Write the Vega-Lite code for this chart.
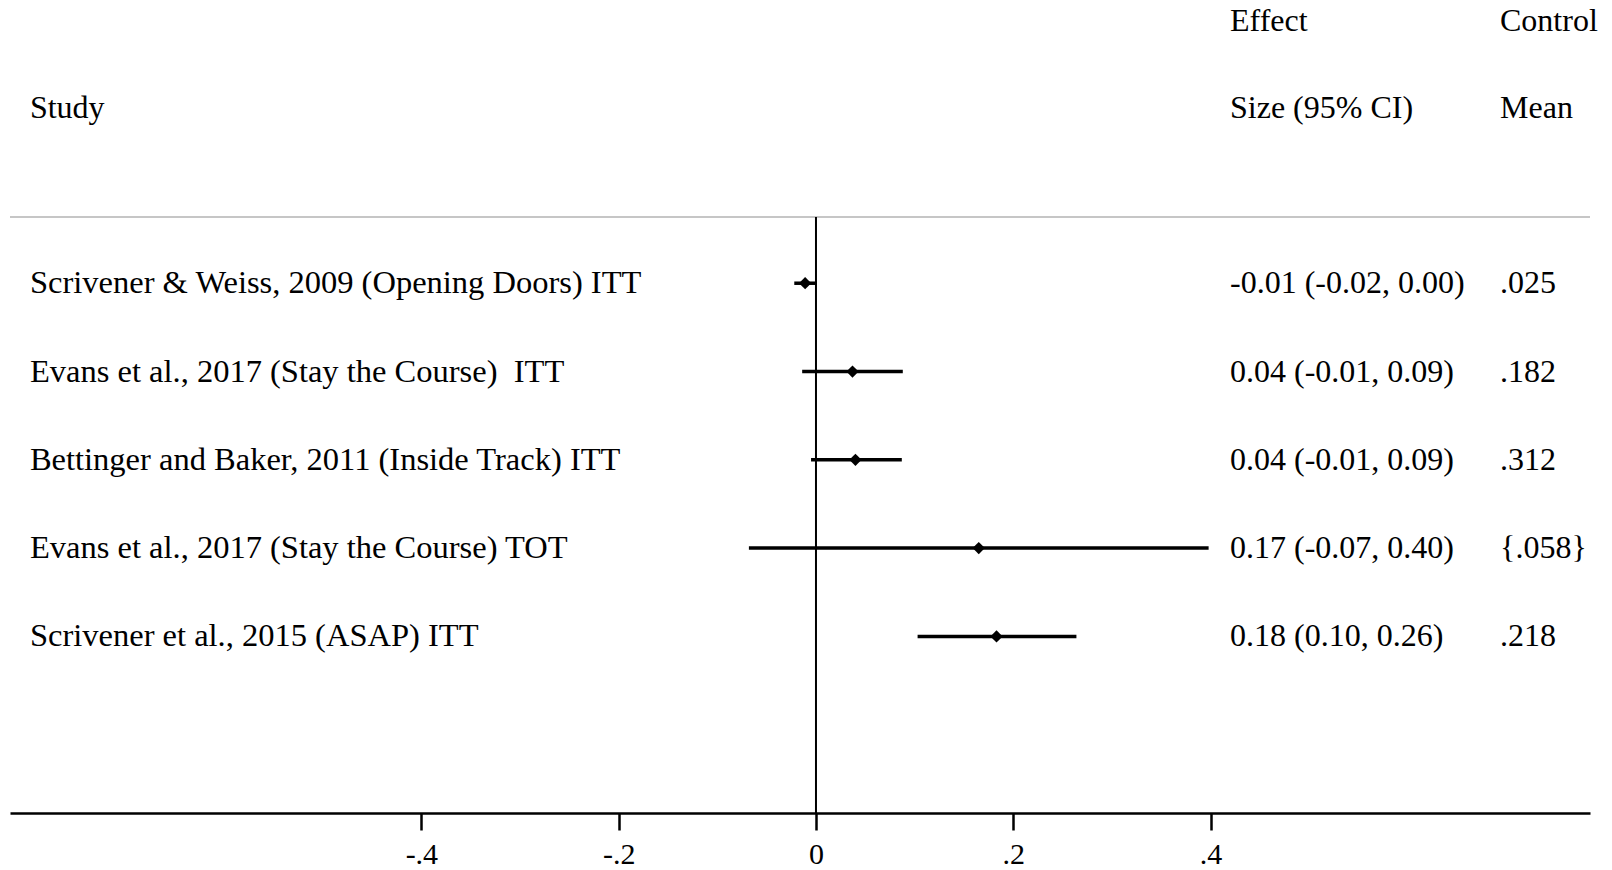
{
  "$schema": "https://vega.github.io/schema/vega-lite/v6.json",
  "width": 1580,
  "height": 596,
  "autosize": {"type": "none"},
  "padding": {"left": 10, "top": 217, "right": 22, "bottom": 57},
  "background": "white",
  "config": {"view": {"stroke": null}, "font": "Liberation Serif"},
  "data": {
    "values": [
      {"study": "Scrivener & Weiss, 2009 (Opening Doors) ITT", "row": 1, "est": -0.011, "lo": -0.022, "hi": 0.001, "es": "-0.01 (-0.02, 0.00)", "cm": ".025"},
      {"study": "Evans et al., 2017 (Stay the Course)\u00a0 ITT", "row": 2, "est": 0.037, "lo": -0.014, "hi": 0.088, "es": "0.04 (-0.01, 0.09)", "cm": ".182"},
      {"study": "Bettinger and Baker, 2011 (Inside Track) ITT", "row": 3, "est": 0.04, "lo": -0.005, "hi": 0.087, "es": "0.04 (-0.01, 0.09)", "cm": ".312"},
      {"study": "Evans et al., 2017 (Stay the Course) TOT", "row": 4, "est": 0.165, "lo": -0.068, "hi": 0.398, "es": "0.17 (-0.07, 0.40)", "cm": "{.058}"},
      {"study": "Scrivener et al., 2015 (ASAP) ITT", "row": 5, "est": 0.183, "lo": 0.103, "hi": 0.264, "es": "0.18 (0.10, 0.26)", "cm": ".218"}
    ]
  },
  "layer": [
    {
      "data": {"values": [{}]},
      "mark": {"type": "rule", "color": "#c6c6c6", "strokeWidth": 2},
      "encoding": {
        "y": {"datum": 0.25, "type": "quantitative", "scale": {"domain": [0.25, 7], "reverse": true, "nice": false, "zero": false}, "axis": null}
      }
    },
    {
      "data": {"values": [{}]},
      "mark": {"type": "rule", "color": "black", "strokeWidth": 2},
      "encoding": {
        "x": {"datum": 0, "type": "quantitative", "scale": {"domain": [-0.817, 0.7846], "nice": false, "zero": false}}
      }
    },
    {
      "mark": {"type": "rule", "color": "black", "strokeWidth": 3.5},
      "encoding": {
        "x": {"field": "lo", "type": "quantitative", "scale": {"domain": [-0.817, 0.7846], "nice": false, "zero": false}},
        "x2": {"field": "hi"},
        "y": {"field": "row", "type": "quantitative", "scale": {"domain": [0.25, 7], "reverse": true, "nice": false, "zero": false}, "axis": null}
      }
    },
    {
      "mark": {"type": "point", "shape": "diamond", "filled": true, "color": "black", "opacity": 1, "size": 150},
      "encoding": {
        "x": {
          "field": "est", "type": "quantitative",
          "scale": {"domain": [-0.817, 0.7846], "nice": false, "zero": false},
          "axis": {
            "values": [-0.4, -0.2, 0, 0.2, 0.4],
            "labelExpr": "datum.value == 0 ? '0' : (datum.value < 0 ? '-' : '') + '.' + abs(round(datum.value * 10))",
            "title": null, "grid": false,
            "domainColor": "black", "domainWidth": 2.5,
            "tickColor": "black", "tickWidth": 2.5, "tickSize": 17,
            "labelFont": "Liberation Serif", "labelFontSize": 30, "labelColor": "black",
            "labelPadding": 9, "labelFlush": false, "labelOverlap": false
          }
        },
        "y": {"field": "row", "type": "quantitative", "scale": {"domain": [0.25, 7], "reverse": true, "nice": false, "zero": false}, "axis": null}
      }
    },
    {
      "mark": {"type": "text", "align": "left", "baseline": "middle", "fontSize": 32.5, "font": "Liberation Serif", "color": "black"},
      "encoding": {
        "x": {"datum": -0.7968, "type": "quantitative"},
        "y": {"field": "row", "type": "quantitative"},
        "text": {"field": "study"}
      }
    },
    {
      "mark": {"type": "text", "align": "left", "baseline": "middle", "fontSize": 32, "font": "Liberation Serif", "color": "black"},
      "encoding": {
        "x": {"datum": 0.4197, "type": "quantitative"},
        "y": {"field": "row", "type": "quantitative"},
        "text": {"field": "es"}
      }
    },
    {
      "mark": {"type": "text", "align": "left", "baseline": "middle", "fontSize": 32, "font": "Liberation Serif", "color": "black"},
      "encoding": {
        "x": {"datum": 0.6934, "type": "quantitative"},
        "y": {"field": "row", "type": "quantitative"},
        "text": {"field": "cm"}
      }
    },
    {
      "data": {"values": [{}]},
      "mark": {"type": "text", "align": "left", "baseline": "middle", "fontSize": 32, "font": "Liberation Serif", "color": "black", "text": "Study"},
      "encoding": {
        "x": {"datum": -0.7968, "type": "quantitative"},
        "y": {"datum": -0.98, "type": "quantitative"}
      }
    },
    {
      "data": {"values": [{}]},
      "mark": {"type": "text", "align": "left", "baseline": "middle", "fontSize": 32, "font": "Liberation Serif", "color": "black", "text": "Effect"},
      "encoding": {
        "x": {"datum": 0.4197, "type": "quantitative"},
        "y": {"datum": -1.97, "type": "quantitative"}
      }
    },
    {
      "data": {"values": [{}]},
      "mark": {"type": "text", "align": "left", "baseline": "middle", "fontSize": 32, "font": "Liberation Serif", "color": "black", "text": "Size (95% CI)"},
      "encoding": {
        "x": {"datum": 0.4197, "type": "quantitative"},
        "y": {"datum": -0.98, "type": "quantitative"}
      }
    },
    {
      "data": {"values": [{}]},
      "mark": {"type": "text", "align": "left", "baseline": "middle", "fontSize": 32, "font": "Liberation Serif", "color": "black", "text": "Control"},
      "encoding": {
        "x": {"datum": 0.6934, "type": "quantitative"},
        "y": {"datum": -1.97, "type": "quantitative"}
      }
    },
    {
      "data": {"values": [{}]},
      "mark": {"type": "text", "align": "left", "baseline": "middle", "fontSize": 32, "font": "Liberation Serif", "color": "black", "text": "Mean"},
      "encoding": {
        "x": {"datum": 0.6934, "type": "quantitative"},
        "y": {"datum": -0.98, "type": "quantitative"}
      }
    }
  ]
}
